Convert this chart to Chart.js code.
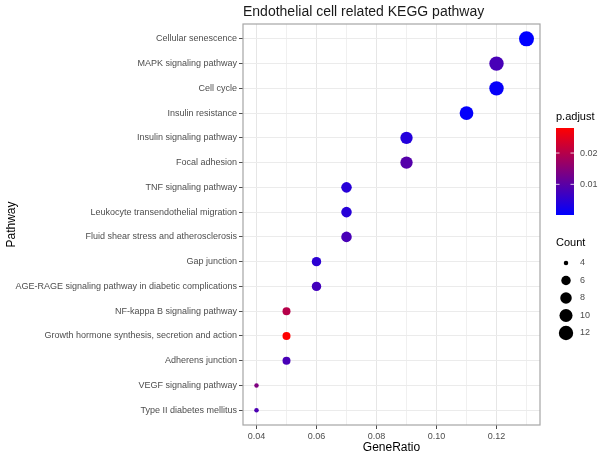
<!DOCTYPE html>
<html>
<head>
<meta charset="utf-8">
<script src="https://cdn.jsdelivr.net/npm/chart.js@4.4.1/dist/chart.umd.min.js"></script>
<style>
  html, body { margin: 0; padding: 0; background: #fff; }
  #chart { display: block; }
</style>
</head>
<body>
<canvas id="chart" width="600" height="455"></canvas>
<script>
const pathways = [
    'Cellular senescence',
    'MAPK signaling pathway',
    'Cell cycle',
    'Insulin resistance',
    'Insulin signaling pathway',
    'Focal adhesion',
    'TNF signaling pathway',
    'Leukocyte transendothelial migration',
    'Fluid shear stress and atherosclerosis',
    'Gap junction',
    'AGE-RAGE signaling pathway in diabetic complications',
    'NF-kappa B signaling pathway',
    'Growth hormone synthesis, secretion and action',
    'Adherens junction',
    'VEGF signaling pathway',
    'Type II diabetes mellitus'
];
const geneRatio = [0.13, 0.12, 0.12, 0.11, 0.09, 0.09, 0.07, 0.07, 0.07, 0.06, 0.06, 0.05, 0.05, 0.05, 0.04, 0.04];
const counts = [13, 12, 12, 11, 9, 9, 7, 7, 7, 6, 6, 5, 5, 5, 4, 4];
const pAdjust = [0.0002, 0.008, 0.0008, 0.0006, 0.004, 0.0095, 0.0045, 0.0045, 0.008, 0.005, 0.0075, 0.020, 0.028, 0.008, 0.014, 0.0085];

const xTicks = [0.04, 0.05, 0.06, 0.07, 0.08, 0.09, 0.10, 0.11, 0.12, 0.13];
const xTickLabels = { '0.04': '0.04', '0.06': '0.06', '0.08': '0.08', '0.1': '0.10', '0.12': '0.12' };
const colorTicks = [0.01, 0.02];
const colorTickLabels = ['0.01', '0.02'];
const sizeBreaks = [4, 6, 8, 10, 12];

const FONT = "'Liberation Sans', Arial, sans-serif";
const pMin = Math.min(...pAdjust);
const pMax = Math.max(...pAdjust);
const cMin = Math.min(...counts);
const cMax = Math.max(...counts);

// blue (low) -> red (high)
function colorFor(p) {
    const t = (p - pMin) / (pMax - pMin);
    const r = Math.round(255 * t);
    const b = Math.round(255 * (1 - t));
    return `rgb(${r}, 0, ${b})`;
}
function radiusFor(c) {
    const size = 1 + 5 * Math.sqrt((c - cMin) / (cMax - cMin));
    return 1.2 + 1.05 * size;
}

const panelPlugin = {
    id: 'panel',
    beforeDraw(chart) {
        const ctx = chart.ctx;
        ctx.save();
        ctx.fillStyle = '#ffffff';
        ctx.fillRect(0, 0, chart.width, chart.height);
        ctx.restore();
    },
    afterDraw(chart) {
        const ctx = chart.ctx;
        const a = chart.chartArea;
        ctx.save();
        ctx.strokeStyle = '#a6a6a6';
        ctx.lineWidth = 1.2;
        ctx.strokeRect(a.left, a.top, a.right - a.left, a.bottom - a.top);

        // title
        ctx.fillStyle = '#1a1a1a';
        ctx.font = `14px ${FONT}`;
        ctx.textBaseline = 'middle';
        ctx.textAlign = 'left';
        ctx.fillText('Endothelial cell related KEGG pathway', a.left, 12);

        // colour legend
        const bx = 556, bw = 18, bTop = 128, bBot = 215;
        ctx.font = `11px ${FONT}`;
        ctx.fillStyle = '#000';
        ctx.fillText('p.adjust', 556, 117);
        const grad = ctx.createLinearGradient(0, bBot, 0, bTop);
        grad.addColorStop(0, colorFor(pMin));
        grad.addColorStop(1, colorFor(pMax));
        ctx.fillStyle = grad;
        ctx.fillRect(bx, bTop, bw, bBot - bTop);
        ctx.font = `9px ${FONT}`;
        colorTicks.forEach((v, i) => {
            const y = bBot - (v - pMin) / (pMax - pMin) * (bBot - bTop);
            ctx.strokeStyle = 'rgba(255,255,255,0.8)';
            ctx.lineWidth = 1;
            ctx.beginPath();
            ctx.moveTo(bx, y); ctx.lineTo(bx + 3.5, y);
            ctx.moveTo(bx + bw - 3.5, y); ctx.lineTo(bx + bw, y);
            ctx.stroke();
            ctx.fillStyle = '#4d4d4d';
            ctx.fillText(colorTickLabels[i], 580, y);
        });

        // size legend
        ctx.font = `11px ${FONT}`;
        ctx.fillStyle = '#000';
        ctx.fillText('Count', 556, 243);
        sizeBreaks.forEach((c, i) => {
            const y = 263 + i * 17.5;
            ctx.fillStyle = '#000';
            ctx.beginPath();
            ctx.arc(566, y, radiusFor(c), 0, Math.PI * 2);
            ctx.fill();
            ctx.fillStyle = '#4d4d4d';
            ctx.font = `9px ${FONT}`;
            ctx.fillText(String(c), 580, y);
        });
        ctx.restore();
    }
};

const majorSet = new Set(Object.keys(xTickLabels));

new Chart(document.getElementById('chart'), {
    type: 'scatter',
    data: {
        datasets: [{
            data: pathways.map((p, i) => ({ x: geneRatio[i], y: i })),
            pointRadius: counts.map(radiusFor),
            pointHoverRadius: counts.map(radiusFor),
            backgroundColor: pAdjust.map(colorFor),
            borderWidth: 0
        }]
    },
    options: {
        responsive: false,
        animation: false,
        devicePixelRatio: 1,
        layout: { padding: { top: 24, right: 60, left: 0, bottom: 0 } },
        plugins: { legend: { display: false }, tooltip: { enabled: false } },
        scales: {
            x: {
                type: 'linear',
                min: 0.0355,
                max: 0.1345,
                afterBuildTicks: s => { s.ticks = xTicks.map(v => ({ value: v })); },
                afterFit: s => { s.height = 30; },
                ticks: {
                    autoSkip: false,
                    maxRotation: 0,
                    padding: 2,
                    color: '#4d4d4d',
                    font: { family: FONT, size: 9 },
                    callback: v => xTickLabels[String(+v.toFixed(2))] || ''
                },
                grid: {
                    color: c => majorSet.has(String(+c.tick.value.toFixed(2))) ? '#e6e6e6' : '#f0f0f0',
                    tickColor: c => majorSet.has(String(+c.tick.value.toFixed(2))) ? '#4d4d4d' : 'rgba(0,0,0,0)',
                    tickLength: 4,
                    lineWidth: 1
                },
                border: { display: false },
                title: {
                    display: true,
                    text: 'GeneRatio',
                    color: '#000',
                    font: { family: FONT, size: 12 },
                    padding: { top: 0, bottom: 0 }
                }
            },
            y: {
                type: 'linear',
                reverse: true,
                min: -0.6,
                max: pathways.length - 1 + 0.6,
                afterBuildTicks: s => { s.ticks = pathways.map((p, i) => ({ value: i })); },
                afterFit: s => { s.width = 243; },
                ticks: {
                    autoSkip: false,
                    padding: 2,
                    color: '#4d4d4d',
                    font: { family: FONT, size: 9 },
                    callback: v => pathways[v]
                },
                grid: {
                    color: '#ebebeb',
                    tickColor: '#4d4d4d',
                    tickLength: 4,
                    lineWidth: 1
                },
                border: { display: false },
                title: {
                    display: true,
                    text: 'Pathway',
                    color: '#000',
                    font: { family: FONT, size: 12 },
                    padding: { top: 4, bottom: 0 }
                }
            }
        }
    },
    plugins: [panelPlugin]
});
</script>
</body>
</html>
